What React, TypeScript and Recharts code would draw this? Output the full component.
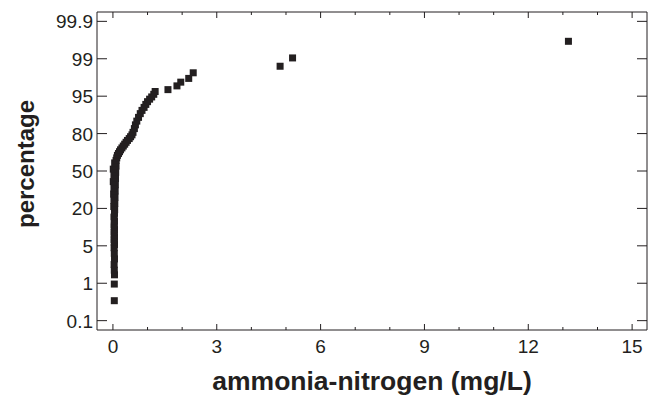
import React from 'react';
import { ScatterChart, Scatter, XAxis, YAxis, Label } from 'recharts';

// probability axis labels (evenly spaced on the plot)
const PCT_TICKS = [0.1, 1, 5, 20, 50, 80, 95, 99, 99.9];
const X_TICKS = [0, 1, 2, 3, 4, 5, 6, 7, 8, 9, 10, 11, 12, 13, 14, 15];
const X_MAJOR = [0, 3, 6, 9, 12, 15];

// ammonia-nitrogen concentration (mg/L)
const NH3 = [
  0.04, 0.04,
  0.045, 0.04, 0.035, 0.045, 0.04, 0.035, 0.045, 0.04, 0.035, 0.045, 0.04, 0.035,
  0.045, 0.04, 0.035, 0.045, 0.03, 0.045, 0.05, 0.025, 0.055, 0.03, 0.06, 0.02,
  0.065, 0.03, 0.07, 0.01, 0.075, 0.03, 0.08, 0.01, 0.09, 0.05,
  0.09, 0.11, 0.13, 0.16, 0.19, 0.22, 0.26, 0.3, 0.34, 0.38, 0.42, 0.47,
  0.51, 0.55, 0.58, 0.62, 0.65, 0.69, 0.74, 0.79, 0.84, 0.9, 0.95, 1.0,
  1.06, 1.12, 1.18, 1.22,
  1.59, 1.85, 1.96, 2.19, 2.32, 4.83, 5.19, 13.16,
];

// cumulative percentage
const CUM_PCT = [
  0.58, 0.98,
  1.9, 2.4, 3.0, 3.6, 4.2, 4.8, 5.5, 6.5, 7.5, 8.5, 9.5, 10.5,
  11.5, 12.5, 13.5, 15, 16.5, 18, 19.5, 21.5, 24, 26.5, 29, 31.5,
  34, 36.5, 39, 41.5, 44, 46.5, 49, 51.5, 54, 56.5,
  58.5, 60.5, 62.5, 64, 65.5, 67, 68.5, 70, 71.5, 73, 74.5, 76,
  77.5, 79, 80.5, 82, 83.5, 85, 86.5, 88, 89.3, 90.5, 91.7, 92.8,
  93.8, 94.7, 95.2, 95.5,
  95.7, 96.1, 96.5, 96.9, 97.5, 98.2, 99.02, 99.42,
];

const INK = '#231f20';
const FONT = 'Arial, "Liberation Sans", Helvetica, sans-serif';

// position on the evenly spaced probability axis
const toPos = (p: number) => {
  for (let i = 0; i < PCT_TICKS.length - 1; i++) {
    if (p <= PCT_TICKS[i + 1]) {
      return i + (p - PCT_TICKS[i]) / (PCT_TICKS[i + 1] - PCT_TICKS[i]);
    }
  }
  return PCT_TICKS.length - 1;
};

const data = NH3.map((x, i) => ({ x, pos: toPos(CUM_PCT[i]) }));
const yTicks = PCT_TICKS.map((_, i) => i);

const Square = (props: any) => {
  const { cx, cy } = props;
  if (cx == null || cy == null) return null;
  return <rect x={cx - 3.5} y={cy - 3.5} width={7} height={7} fill={INK} />;
};

const BottomTick = (props: any) => {
  const { x, y, payload } = props;
  const major = X_MAJOR.includes(payload.value);
  return (
    <g>
      <line x1={x} x2={x} y1={y} y2={y - (major ? 6 : 3)} stroke={INK} strokeWidth={1} />
      {major && (
        <text x={x} y={y + 23} textAnchor="middle" fontSize={19} fontFamily={FONT} fill={INK}>
          {payload.value}
        </text>
      )}
    </g>
  );
};

const TopTick = (props: any) => {
  const { x, y, payload } = props;
  const major = X_MAJOR.includes(payload.value);
  return <line x1={x} x2={x} y1={y} y2={y + (major ? 6 : 3)} stroke={INK} strokeWidth={1} />;
};

const LeftTick = (props: any) => {
  const { x, y, payload } = props;
  return (
    <g>
      <line x1={x} x2={x + 10} y1={y} y2={y} stroke={INK} strokeWidth={1} />
      <text x={x - 4} y={y + 7} textAnchor="end" fontSize={19} fontFamily={FONT} fill={INK}>
        {PCT_TICKS[payload.value]}
      </text>
    </g>
  );
};

const RightTick = (props: any) => {
  const { x, y } = props;
  return <line x1={x} x2={x - 10} y1={y} y2={y} stroke={INK} strokeWidth={1} />;
};

export default function App() {
  const xDomain = [-0.46, 15.43];
  const yDomain = [-0.25, 8.25];
  return (
    <div style={{ position: 'absolute', left: 0, top: 0, background: '#fff' }}>
      <ScatterChart width={652} height={403} margin={{ top: 0, right: 0, bottom: 0, left: 0 }}>
        <XAxis
          xAxisId="bottom"
          dataKey="x"
          type="number"
          orientation="bottom"
          domain={xDomain}
          allowDataOverflow
          ticks={X_TICKS}
          interval={0}
          height={73}
          tickSize={0}
          tickMargin={0}
          tickLine={false}
          tick={<BottomTick />}
          axisLine={{ stroke: INK, strokeWidth: 1 }}
        >
          <Label
            value="ammonia-nitrogen (mg/L)"
            position="insideBottom"
            offset={13}
            style={{ fontSize: 26.5, fontWeight: 'bold', fontFamily: FONT, fill: INK }}
          />
        </XAxis>
        <XAxis
          xAxisId="top"
          dataKey="x"
          type="number"
          orientation="top"
          domain={xDomain}
          allowDataOverflow
          ticks={X_TICKS}
          interval={0}
          height={12}
          tickSize={0}
          tickMargin={0}
          tickLine={false}
          tick={<TopTick />}
          axisLine={{ stroke: INK, strokeWidth: 1 }}
        />
        <YAxis
          yAxisId="left"
          dataKey="pos"
          type="number"
          orientation="left"
          domain={yDomain}
          allowDataOverflow
          ticks={yTicks}
          interval={0}
          width={97}
          tickSize={0}
          tickMargin={0}
          tickLine={false}
          tick={<LeftTick />}
          axisLine={{ stroke: INK, strokeWidth: 1 }}
        >
          <Label
            value="percentage"
            angle={-90}
            position="center"
            dx={-23}
            dy={-7}
            style={{ fontSize: 24, fontWeight: 'bold', fontFamily: FONT, fill: INK }}
          />
        </YAxis>
        <YAxis
          yAxisId="right"
          dataKey="pos"
          type="number"
          orientation="right"
          domain={yDomain}
          allowDataOverflow
          ticks={yTicks}
          interval={0}
          width={5}
          tickSize={0}
          tickMargin={0}
          tickLine={false}
          tick={<RightTick />}
          axisLine={{ stroke: INK, strokeWidth: 1 }}
        />
        <Scatter
          data={data}
          xAxisId="bottom"
          yAxisId="left"
          fill={INK}
          shape={<Square />}
          isAnimationActive={false}
        />
      </ScatterChart>
    </div>
  );
}
